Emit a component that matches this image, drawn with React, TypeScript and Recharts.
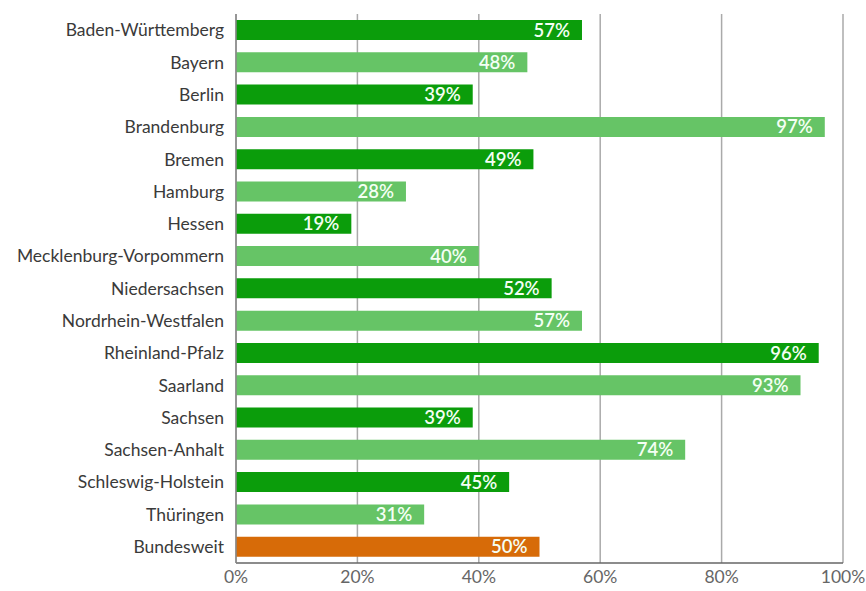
import { BarChart, Bar, XAxis, YAxis, CartesianGrid, Cell, LabelList } from 'recharts';

const states = [
  'Baden-Württemberg',
  'Bayern',
  'Berlin',
  'Brandenburg',
  'Bremen',
  'Hamburg',
  'Hessen',
  'Mecklenburg-Vorpommern',
  'Niedersachsen',
  'Nordrhein-Westfalen',
  'Rheinland-Pfalz',
  'Saarland',
  'Sachsen',
  'Sachsen-Anhalt',
  'Schleswig-Holstein',
  'Thüringen',
  'Bundesweit',
];

const shares = [57, 48, 39, 97, 49, 28, 19, 40, 52, 57, 96, 93, 39, 74, 45, 31, 50];

const xTicks = [0, 20, 40, 60, 80, 100];

const DARK = '#0b9d0b';
const LIGHT = '#66c466';
const ORANGE = '#d76b08';

const data = states.map((name, i) => ({ name, value: shares[i] }));

export default function App() {
  return (
    <div style={{ position: 'absolute', left: 0, top: 0, fontFamily: 'Lato, sans-serif' }}>
      <BarChart
        width={866}
        height={591}
        data={data}
        layout="vertical"
        margin={{ top: 14, right: 23, bottom: 3, left: 0 }}
        barCategoryGap={12}
      >
        <CartesianGrid horizontal={false} vertical stroke="#aaaaaa" strokeWidth={1.5} />
        <XAxis
          type="number"
          domain={[0, 100]}
          ticks={xTicks}
          tickFormatter={(v: number) => `${v}%`}
          tickLine={false}
          tickSize={0}
          tickMargin={8}
          height={25}
          axisLine={{ stroke: '#666', strokeWidth: 1.5 }}
          tick={{ fill: '#666', fontSize: 17.5 }}
          interval={0}
        />
        <YAxis
          type="category"
          dataKey="name"
          width={236}
          tickLine={false}
          tickSize={0}
          tickMargin={12}
          axisLine={{ stroke: '#888', strokeWidth: 1.5 }}
          tick={{ fill: '#3a3a3a', fontSize: 17.5 }}
          interval={0}
        />
        <Bar dataKey="value" barSize={20} isAnimationActive={false}>
          {data.map((d, i) => (
            <Cell
              key={d.name}
              fill={d.name === 'Bundesweit' ? ORANGE : i % 2 === 0 ? DARK : LIGHT}
            />
          ))}
          <LabelList
            dataKey="value"
            position="insideRight"
            offset={12}
            formatter={(v: number) => `${v}%`}
            fill="#f4fff4"
            fontSize={18.5}
            fontWeight={600}
          />
        </Bar>
      </BarChart>
    </div>
  );
}
